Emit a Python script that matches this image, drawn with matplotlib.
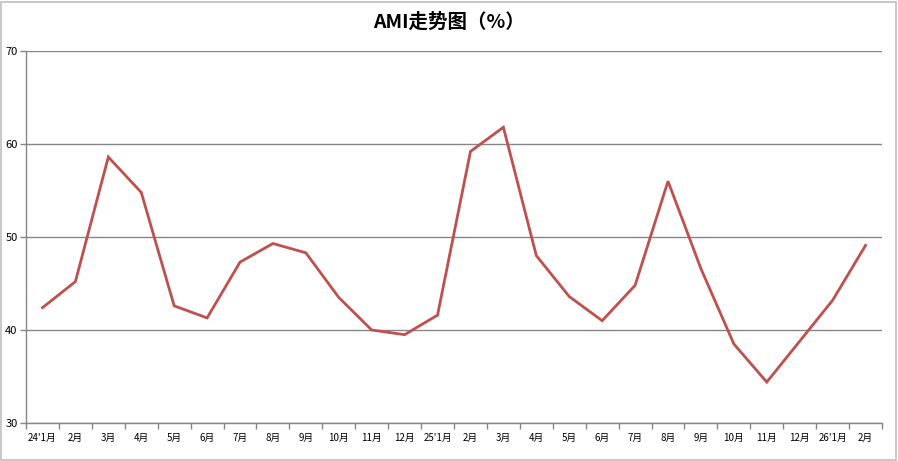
import matplotlib.pyplot as plt
from matplotlib.patches import Rectangle
import numpy as np

plt.rcParams['font.family'] = ['Noto Sans CJK SC', 'DejaVu Sans']

# months, Jan 2024 - Feb 2026
months = ["24'1月", "2月", "3月", "4月", "5月", "6月", "7月", "8月", "9月", "10月", "11月", "12月",
          "25'1月", "2月", "3月", "4月", "5月", "6月", "7月", "8月", "9月", "10月", "11月", "12月",
          "26'1月", "2月"]
ami = [42.4, 45.2, 58.6, 54.8, 42.6, 41.3, 47.3, 49.3, 48.3, 43.5, 40.0, 39.5,
       41.6, 59.2, 61.8, 48.0, 43.6, 41.0, 44.8, 56.0, 46.6, 38.5, 34.4, 38.8,
       43.2, 49.1]
y_ticks = [30, 40, 50, 60, 70]

W, H = 898, 461
fig = plt.figure(figsize=(W / 100, H / 100), dpi=100)
ax = fig.add_axes([26 / W, (H - 423) / H, (882 - 26) / W, (423 - 51) / H])

x = np.arange(len(months))
ax.plot(x, ami, color='#c0504d', lw=2.0, solid_joinstyle='miter', zorder=3)

ax.set_xlim(-0.5, len(months) - 0.5)
ax.set_ylim(30, 70)
ax.set_yticks(y_ticks)
ax.grid(axis='y', color='#868686', lw=1.0)
ax.set_axisbelow(True)

ax.set_xticks(x)
ax.set_xticklabels(months, fontsize=7)
ax.set_xticks(np.arange(len(months) + 1) - 0.5, minor=True)
ax.tick_params(axis='x', which='major', length=0, pad=7)
ax.tick_params(axis='x', which='minor', length=4, color='#868686', width=1)
ax.tick_params(axis='y', length=4, color='#868686', width=1, labelsize=8, pad=2)

for s in ['top', 'right']:
    ax.spines[s].set_visible(False)
for s in ['left', 'bottom']:
    ax.spines[s].set_color('#868686')
    ax.spines[s].set_linewidth(1.0)

fig.text(0.5, (H - 22) / H, 'AMI走势图（%）', ha='center', va='center',
         fontsize=14, fontweight='bold')

# outer frame
fig.patches.append(Rectangle((1 / W, 1 / H), (W - 3) / W, (H - 3) / H, transform=fig.transFigure,
                             fill=False, edgecolor='#bfbfbf', lw=1.2))

fig.savefig('out.png', dpi=100)
